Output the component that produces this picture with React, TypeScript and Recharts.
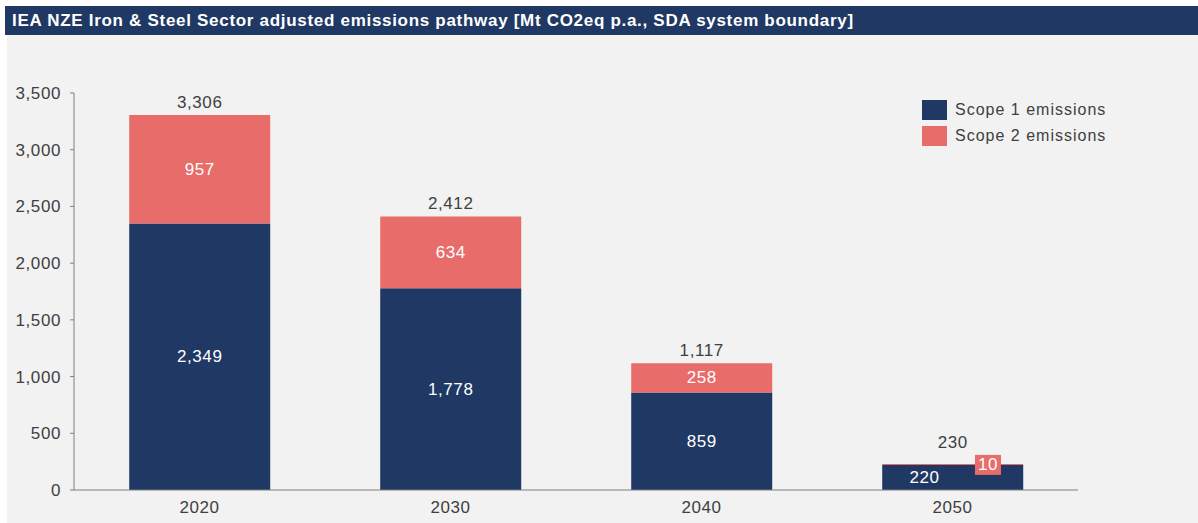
import React from 'react';
import { BarChart, Bar, XAxis, YAxis, LabelList } from 'recharts';

const years = ['2020', '2030', '2040', '2050'];
const scope1 = [2349, 1778, 859, 220];
const scope2 = [957, 634, 258, 10];
const totals = [3306, 2412, 1117, 230];
const yTicks = [0, 500, 1000, 1500, 2000, 2500, 3000, 3500];
const seriesNames = ['Scope 1 emissions', 'Scope 2 emissions'];

const NAVY = '#1f3864';
const RED = '#e86c69';
const TEXT = '#404040';
const FONT = '"Liberation Sans", Arial, sans-serif';

const data = years.map((year, i) => ({
  year,
  scope1: scope1[i],
  scope2: scope2[i],
  total: totals[i],
}));

const fmt = (v: number) => v.toLocaleString('en-US');

function Scope1Label(props: any) {
  const { x, y, width, height, value, index } = props;
  const small = scope2[index] < 50;
  const cx = small ? x + width * 0.3 : x + width / 2;
  return (
    <text x={cx} y={y + height / 2} fill="#fff" fontSize={17} letterSpacing={0.6}
      textAnchor="middle" dominantBaseline="central" fontFamily={FONT}>
      {fmt(value)}
    </text>
  );
}

function Scope2Label(props: any) {
  const { x, y, width, height, value, index } = props;
  if (scope2[index] < 50) {
    const cx = x + width * 0.75;
    const cy = y + 1;
    return (
      <g>
        <rect x={cx - 13} y={cy - 10} width={26} height={20} fill={RED} />
        <text x={cx} y={cy} fill="#fff" fontSize={17} letterSpacing={0.6}
          textAnchor="middle" dominantBaseline="central" fontFamily={FONT}>
          {fmt(value)}
        </text>
      </g>
    );
  }
  return (
    <text x={x + width / 2} y={y + height / 2} fill="#fff" fontSize={17} letterSpacing={0.6}
      textAnchor="middle" dominantBaseline="central" fontFamily={FONT}>
      {fmt(value)}
    </text>
  );
}

function TotalLabel(props: any) {
  const { x, y, width, index } = props;
  const lift = scope2[index] < 50 ? 21 : 13;
  return (
    <text x={x + width / 2} y={y - lift} fill={TEXT} fontSize={17} letterSpacing={0.6}
      textAnchor="middle" dominantBaseline="central" fontFamily={FONT}>
      {fmt(totals[index])}
    </text>
  );
}

function LegendBox() {
  const colors = [NAVY, RED];
  return (
    <div style={{ position: 'absolute', left: 915, top: 62, fontFamily: FONT }}>
      {seriesNames.map((name, i) => (
        <div key={name} style={{ display: 'flex', alignItems: 'center', height: 26 }}>
          <div style={{ width: 25, height: 20, background: colors[i], marginRight: 8 }} />
          <span style={{ fontSize: 16, letterSpacing: 1, color: TEXT }}>{name}</span>
        </div>
      ))}
    </div>
  );
}

export default function App() {
  return (
    <div style={{ position: 'absolute', left: 0, top: 0, width: 1198, height: 523, background: '#fff', fontFamily: FONT }}>
      <div style={{
        position: 'absolute', left: 5, top: 6, width: 1193, height: 29, background: NAVY,
        color: '#fff', fontWeight: 'bold', fontSize: 17, letterSpacing: 0.7, lineHeight: '29px', paddingLeft: 7,
        boxSizing: 'border-box', whiteSpace: 'nowrap', overflow: 'hidden',
      }}>
        IEA NZE Iron &amp; Steel Sector adjusted emissions pathway [Mt CO2eq p.a., SDA system boundary]
      </div>
      <div style={{ position: 'absolute', left: 7, top: 35, width: 1191, height: 488, background: '#f2f2f2' }}>
        <BarChart width={1191} height={488} data={data}
          margin={{ top: 58, right: 120, left: 0, bottom: 0 }} barCategoryGap="22%">
          <XAxis dataKey="year" height={33} axisLine={{ stroke: '#7f7f7f' }} tickLine={false}
            tickSize={0} tickMargin={11}
            tick={{ fill: TEXT, fontSize: 17, letterSpacing: 0.6, fontFamily: FONT }} />
          <YAxis width={67} domain={[0, 3500]} ticks={yTicks} tickFormatter={fmt}
            axisLine={{ stroke: '#7f7f7f' }} tickLine={{ stroke: '#7f7f7f' }} tickSize={4} tickMargin={9}
            tick={{ fill: TEXT, fontSize: 17, letterSpacing: 0.6, fontFamily: FONT }} />
          <Bar dataKey="scope1" stackId="a" fill={NAVY} isAnimationActive={false} name={seriesNames[0]}>
            <LabelList dataKey="scope1" content={Scope1Label} />
          </Bar>
          <Bar dataKey="scope2" stackId="a" fill={RED} isAnimationActive={false} name={seriesNames[1]}>
            <LabelList dataKey="scope2" content={Scope2Label} />
            <LabelList dataKey="total" content={TotalLabel} />
          </Bar>
        </BarChart>
        <LegendBox />
      </div>
    </div>
  );
}
